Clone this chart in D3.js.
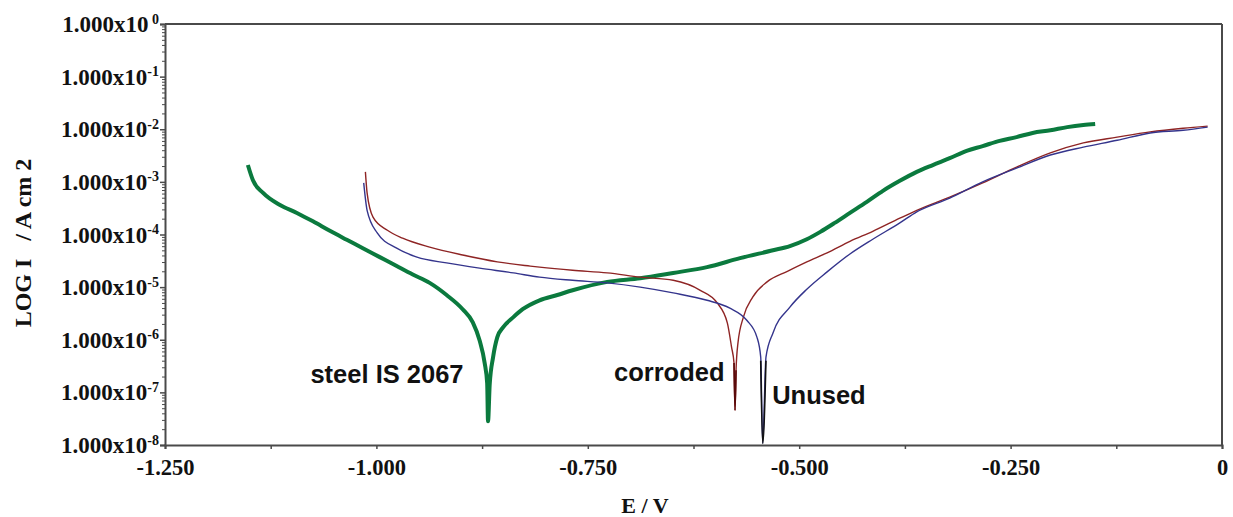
<!DOCTYPE html>
<html>
<head>
<meta charset="utf-8">
<script src="https://cdn.jsdelivr.net/npm/d3@7"></script>
<style>
  body { margin: 0; background: #fff; }
  svg { display: block; }
  .tick-lab { font-family: 'Liberation Serif', 'Times New Roman', serif; font-weight: bold; fill: #111; }
  .titulo-eje { font-family: 'Liberation Serif', 'Times New Roman', serif; font-weight: bold; fill: #111; }
  .anota { font-family: 'Liberation Sans', Arial, sans-serif; font-weight: bold; font-size: 25.5px; fill: #111; }
</style>
</head>
<body>
<div id="graf"></div>
<script>
// I. Datos  [E (V), log10 I (A cm-2)]
steel = [[-1.152,-2.68],[-1.146,-2.97],[-1.134,-3.21],[-1.114,-3.44],[-1.094,-3.59],[-1.075,-3.75],
  [-1.055,-3.93],[-1.035,-4.10],[-1.016,-4.26],[-0.996,-4.43],[-0.976,-4.60],[-0.957,-4.76],
  [-0.937,-4.92],[-0.917,-5.15],[-0.898,-5.42],[-0.886,-5.67],[-0.878,-6.01],[-0.872,-6.44],
  [-0.869,-6.83],[-0.868,-7.55],[-0.866,-6.85],[-0.862,-6.33],[-0.857,-5.95],[-0.850,-5.76],
  [-0.838,-5.57],[-0.827,-5.42],[-0.807,-5.25],[-0.786,-5.15],[-0.768,-5.06],[-0.727,-4.90],
  [-0.688,-4.83],[-0.649,-4.73],[-0.609,-4.62],[-0.570,-4.45],[-0.531,-4.30],[-0.511,-4.22],
  [-0.491,-4.09],[-0.475,-3.95],[-0.458,-3.78],[-0.440,-3.59],[-0.420,-3.38],[-0.401,-3.17],
  [-0.381,-2.98],[-0.361,-2.81],[-0.342,-2.68],[-0.322,-2.55],[-0.302,-2.41],[-0.283,-2.32],
  [-0.263,-2.22],[-0.243,-2.15],[-0.224,-2.07],[-0.203,-2.02],[-0.183,-1.96],[-0.164,-1.92],
  [-0.150,-1.90]]

corroded = [[-1.013,-2.81],[-1.011,-3.21],[-1.004,-3.67],[-0.987,-3.92],[-0.969,-4.07],[-0.937,-4.24],
  [-0.898,-4.39],[-0.857,-4.52],[-0.818,-4.60],[-0.807,-4.62],[-0.768,-4.68],[-0.727,-4.73],
  [-0.688,-4.81],[-0.649,-4.87],[-0.617,-5.06],[-0.597,-5.30],[-0.585,-5.68],[-0.580,-6.14],
  [-0.5771,-6.44],[-0.5759,-7.34],[-0.5747,-6.58],[-0.5724,-6.06],[-0.566,-5.57],[-0.555,-5.19],
  [-0.538,-4.90],[-0.514,-4.70],[-0.491,-4.52],[-0.467,-4.35],[-0.440,-4.13],[-0.413,-3.94],
  [-0.381,-3.69],[-0.361,-3.54],[-0.322,-3.29],[-0.283,-3.02],[-0.243,-2.72],[-0.203,-2.45],
  [-0.164,-2.26],[-0.124,-2.15],[-0.085,-2.05],[-0.046,-1.98],[-0.017,-1.94]]

unused = [[-1.015,-3.02],[-1.011,-3.54],[-0.999,-3.97],[-0.976,-4.26],[-0.952,-4.43],[-0.917,-4.54],
  [-0.878,-4.64],[-0.838,-4.73],[-0.807,-4.81],[-0.768,-4.87],[-0.727,-4.92],[-0.688,-5.00],
  [-0.649,-5.11],[-0.609,-5.25],[-0.582,-5.40],[-0.562,-5.63],[-0.550,-5.95],[-0.5455,-6.33],
  [-0.5432,-7.97],[-0.5393,-6.33],[-0.531,-5.87],[-0.511,-5.38],[-0.491,-5.04],[-0.467,-4.71],
  [-0.440,-4.37],[-0.413,-4.09],[-0.381,-3.78],[-0.361,-3.57],[-0.322,-3.31],[-0.283,-3.00],
  [-0.243,-2.74],[-0.203,-2.49],[-0.164,-2.34],[-0.124,-2.21],[-0.085,-2.07],[-0.046,-2.02],
  [-0.017,-1.96]]

// puntas oscuras de los picos
corrodedTip = [[-0.5771,-6.44],[-0.5759,-7.34],[-0.5747,-6.58]]
unusedTip = [[-0.5455,-6.40],[-0.5432,-7.97],[-0.5393,-6.40]]

xTicks = [-1.25, -1.125, -1.0, -0.875, -0.75, -0.625, -0.5, -0.375, -0.25, -0.125, 0]
xLabels = ['-1.250', '', '-1.000', '', '-0.750', '', '-0.500', '', '-0.250', '', '0']
yExps = [0, -1, -2, -3, -4, -5, -6, -7, -8]

series = [
  { nombre: 'steel', datos: steel, color: '#0b7a3e', ancho: 4 },
  { nombre: 'corroded', datos: corroded, color: '#8e2424', ancho: 1.4 },
  { nombre: 'unused', datos: unused, color: '#34348c', ancho: 1.4 },
  { nombre: 'corrodedTip', datos: corrodedTip, color: '#5a0a0a', ancho: 1.6 },
  { nombre: 'unusedTip', datos: unusedTip, color: '#111', ancho: 1.6 }
]

etiquetas = [
  { texto: 'steel IS 2067', e: -1.078, logI: -6.83 },
  { texto: 'corroded', e: -0.719, logI: -6.79 },
  { texto: 'Unused', e: -0.532, logI: -7.22 }
]

// II. Configuración
ancho_total = 1233
alto_total = 517
margins = { top: 24, left: 165, right: 11, bottom: 72 }

svg = d3.select('#graf').append('svg')
  .attr('width', ancho_total)
  .attr('height', alto_total)

x = d3.scaleLinear()
  .domain([-1.25, 0])
  .range([margins.left, ancho_total - margins.right])

y = d3.scaleLog()
  .domain([1e-8, 1])
  .range([alto_total - margins.bottom, margins.top])

ejeColor = '#4a4a4a'

// III. Ejes
xAxisGroup = svg.append('g')
  .attr('transform', `translate(0, ${ y(1e-8) })`)
  .call(d3.axisBottom(x)
    .tickValues(xTicks)
    .tickSize(4)
    .tickFormat((d, i) => xLabels[i]))
xAxisGroup.select('.domain').attr('stroke', ejeColor).attr('stroke-width', 2)
xAxisGroup.selectAll('.tick line').attr('stroke', ejeColor).attr('stroke-width', 1.5)
xAxisGroup.selectAll('.tick text')
  .attr('class', 'tick-lab')
  .attr('font-size', 22.5)
  .attr('y', 9)
  .attr('dy', '0.95em')

minors = []
yExps.slice(1).forEach(k => {
  for (let m = 2; m <= 9; m++) minors.push(m * Math.pow(10, k))
})

yMinor = svg.append('g')
  .attr('transform', `translate(${ x(-1.25) }, 0)`)
  .call(d3.axisLeft(y).tickValues(minors).tickSize(3).tickFormat(''))
yMinor.select('.domain').remove()
yMinor.selectAll('.tick line').attr('stroke', ejeColor).attr('stroke-width', 1)

yAxisGroup = svg.append('g')
  .attr('transform', `translate(${ x(-1.25) }, 0)`)
  .call(d3.axisLeft(y)
    .tickValues(yExps.map(k => Math.pow(10, k)))
    .tickSize(5)
    .tickFormat(''))
yAxisGroup.select('.domain').attr('stroke', ejeColor).attr('stroke-width', 2)
yAxisGroup.selectAll('.tick line').attr('stroke', ejeColor).attr('stroke-width', 1.5)

yAxisGroup.selectAll('.tick').each(function(d, i) {
  t = d3.select(this).append('text')
    .attr('class', 'tick-lab')
    .attr('x', -6)
    .attr('y', 7.5)
    .attr('text-anchor', 'end')
    .attr('font-size', 23)
  t.append('tspan').text('1.000x10')
  t.append('tspan')
    .attr('dy', -8.5)
    .attr('font-size', 14)
    .text(yExps[i] == 0 ? '\u00a00' : yExps[i])
})

// marco superior y derecho
svg.append('line')
  .attr('x1', x(-1.25)).attr('x2', x(0))
  .attr('y1', y(1)).attr('y2', y(1))
  .attr('stroke', ejeColor).attr('stroke-width', 2)
svg.append('line')
  .attr('x1', x(0)).attr('x2', x(0))
  .attr('y1', y(1)).attr('y2', y(1e-8))
  .attr('stroke', ejeColor).attr('stroke-width', 2)

// títulos
svg.append('text')
  .attr('class', 'titulo-eje')
  .attr('font-size', 24)
  .attr('transform', 'translate(31, 243) rotate(-90)')
  .attr('text-anchor', 'middle')
  .attr('xml:space', 'preserve')
  .text('LOG I   / A cm 2')

svg.append('text')
  .attr('class', 'titulo-eje')
  .attr('font-size', 22)
  .attr('x', 645)
  .attr('y', 513)
  .attr('text-anchor', 'middle')
  .attr('xml:space', 'preserve')
  .text('E / V')

// IV. Curvas
linea = d3.line()
  .x(d => x(d[0]))
  .y(d => y(Math.pow(10, d[1])))
  .curve(d3.curveMonotoneX)

svg.append('g')
  .selectAll('path')
  .data(series)
  .enter()
  .append('path')
    .attr('d', d => linea(d.datos))
    .attr('fill', 'none')
    .attr('stroke', d => d.color)
    .attr('stroke-width', d => d.ancho)
    .attr('stroke-linejoin', 'round')

// V. Anotaciones
svg.append('g')
  .selectAll('text')
  .data(etiquetas)
  .enter()
  .append('text')
    .attr('class', 'anota')
    .attr('x', d => x(d.e))
    .attr('y', d => y(Math.pow(10, d.logI)))
    .text(d => d.texto)
</script>
</body>
</html>
